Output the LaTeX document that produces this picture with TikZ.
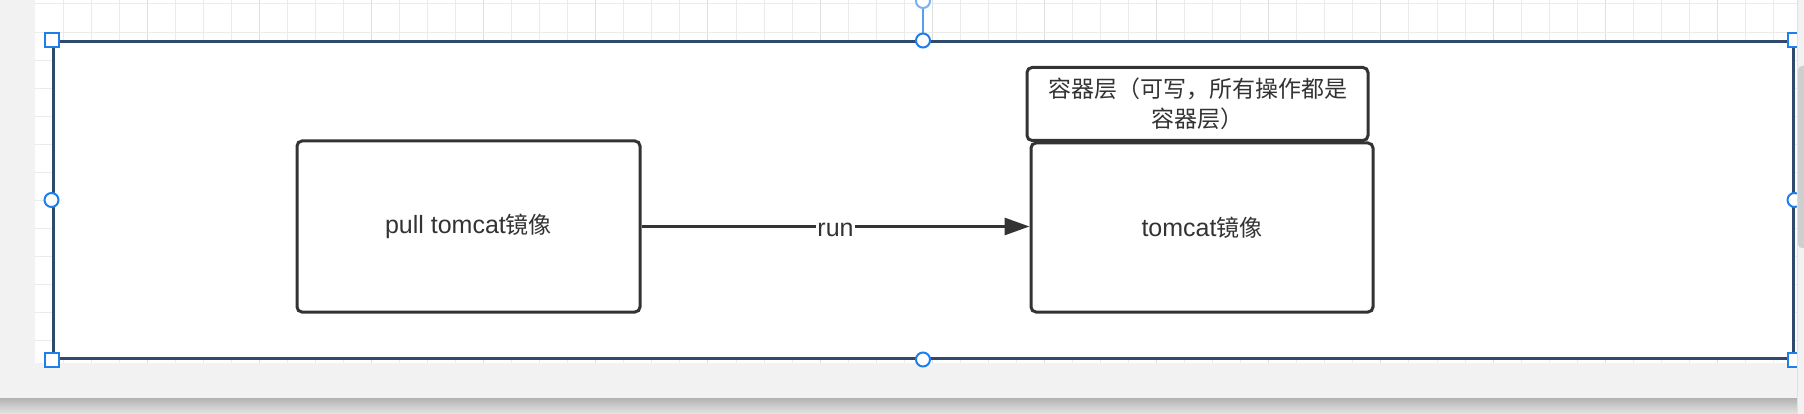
\documentclass[tikz,border=0pt]{standalone}
\usepackage{fontspec}
\setmainfont{Noto Sans CJK SC}
\newfontfamily\latinfont{Liberation Sans}
\newcommand{\lat}[1]{{\latinfont\fontsize{25}{30}\selectfont #1}}
\usetikzlibrary{arrows.meta}
\definecolor{ink}{HTML}{333333}
\definecolor{selblue}{HTML}{1F7FEA}
\definecolor{frame}{HTML}{2F4A6C}
\definecolor{gridminor}{HTML}{EBEBEB}
\definecolor{gridmajor}{HTML}{DFDFDF}
\definecolor{canvas}{HTML}{F2F2F2}
\definecolor{thumb}{HTML}{CFCFCF}
\tikzset{
  boxnode/.style={draw=ink, line width=3pt, rounded corners=5pt, fill=white, inner sep=0pt,
    font=\fontsize{23}{30}\selectfont, text=ink, align=center},
  handlesq/.style={draw=selblue, line width=2pt, fill=white, minimum size=14pt, inner sep=0pt},
  handlecirc/.style={circle, draw=selblue, line width=2pt, fill=white, minimum size=14pt, inner sep=0pt},
  conn/.style={draw=ink, line width=3pt, -{Triangle[length=25pt, width=17pt]}},
  connlabel/.style={fill=white, inner sep=1pt, text=ink, font=\fontsize{23}{28}\selectfont}
}
\begin{document}
\begin{tikzpicture}[x=1pt, y=-1pt]
\useasboundingbox (0,0) rectangle (1804,414);
% canvas background
\fill[canvas] (0,0) rectangle (1804,414);
\shade[top color=black!30, bottom color=black!10] (0,398) rectangle (1797,414);
\fill[white] (35,0) rectangle (1797,363);
% grid
\foreach \i in {1,...,62} {
  \pgfmathtruncatemacro{\m}{mod(\i,4)}
  \ifnum\m=0
    \draw[gridmajor, line width=1pt] ({35+28.04*\i},0) -- ({35+28.04*\i},363);
  \else
    \draw[gridminor, line width=1pt] ({35+28.04*\i},0) -- ({35+28.04*\i},363);
  \fi
}
\foreach \j in {0,...,12} {
  \draw[gridminor, line width=1pt] (35,{4+28.04*\j}) -- (1797,{4+28.04*\j});
}
% container
\node[draw=frame, line width=3pt, fill=white, minimum width=1740pt, minimum height=316pt, inner sep=0pt] (group) at (923,200) {};
% boxes
\node[boxnode, minimum width=343pt, minimum height=171pt] (pull) at (468.5,226.5) {\raisebox{-3pt}{\lat{pull tomcat}镜像}};
\node[boxnode, minimum width=342pt, minimum height=169pt] (image) at (1202,227.5) {\raisebox{-3pt}{\lat{tomcat}镜像}};
\node[boxnode, minimum width=341pt, minimum height=73pt] (layer) at (1197.5,104) {容器层（可写，所有操作都是\\容器层）};
% connector
\draw[conn] (pull.east) -- (pull.east -| image.west) node[connlabel, midway, yshift=-3pt] {\lat{run}};
% selection handles
\coordinate (rot) at (923,1);
\draw[selblue!75, line width=2pt] (group.north) -- (rot);
\node[circle, draw=selblue!60, line width=2pt, fill=white, minimum size=14pt, inner sep=0pt] (rothandle) at (rot) {};
\node[handlesq] (hnw) at (group.north west) {};
\node[handlesq] (hne) at (group.north east) {};
\node[handlesq] (hsw) at (group.south west) {};
\node[handlesq] (hse) at (group.south east) {};
\node[handlecirc] (hn) at (group.north) {};
\node[handlecirc] (hs) at (group.south) {};
\node[handlecirc] (hw) at (group.west) {};
\node[handlecirc] (he) at (group.east) {};
% right scroll strip
\fill[canvas] (1797,0) rectangle (1804,414);
\draw[black!12, line width=1pt] (1797,0) -- (1797,414);
\fill[thumb, rounded corners=4pt] (1798,66) rectangle (1810,248);
\end{tikzpicture}
\end{document}
